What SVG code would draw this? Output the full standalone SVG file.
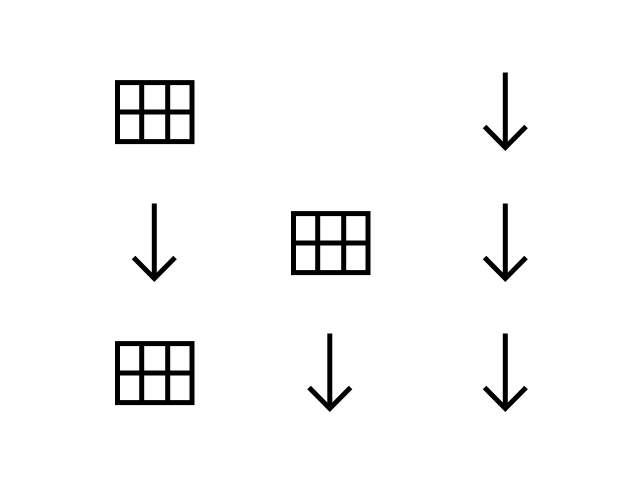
<svg xmlns="http://www.w3.org/2000/svg" width="640" height="480" viewBox="0 0 640 480">
<style>.s{fill:none;stroke:#000;stroke-width:5}</style>
<defs>
<g id="table"><rect class="s" x="117.5" y="82.6" width="74.5" height="59"/><path class="s" d="M141.7 82.6V141.6M167.7 82.6V141.6M117.5 112H192"/></g>
<g id="arrow"><path class="s" d="M505.3 72.5V148"/><path class="s" d="M486.3 128.3L505.3 147.5L524.3 128.3" stroke-linecap="square"/></g>
</defs>
<rect width="640" height="480" fill="#fff"/>
<g id="table-1"><use href="#table"/></g>
<g id="table-2"><use href="#table" x="176" y="131"/></g>
<g id="table-3"><use href="#table" y="261"/></g>
<g id="arrow-1"><use href="#arrow"/></g>
<g id="arrow-2"><use href="#arrow" y="131"/></g>
<g id="arrow-3"><use href="#arrow" y="261"/></g>
<g id="arrow-4"><use href="#arrow" x="-351" y="131"/></g>
<g id="arrow-5"><use href="#arrow" x="-175.5" y="261"/></g>
</svg>
